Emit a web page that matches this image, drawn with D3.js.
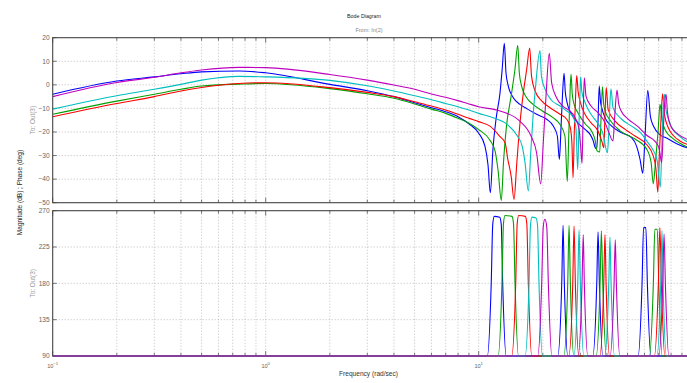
<!DOCTYPE html>
<html><head><meta charset="utf-8">
<script src="https://cdn.jsdelivr.net/npm/d3@7"></script>
<style>body{margin:0;background:#fff;}svg{display:block;font-family:"Liberation Sans",Arial,Helvetica,sans-serif;}</style>
</head><body><svg id="c" width="687" height="383"></svg>
<script>
// ---- data (frequency rad/s, value) ----
const seriesColors = ["#0000ff","#00a000","#ff0000","#00bfbf","#bf00bf"];
const magTicks = [20,10,0,-10,-20,-30,-40,-50];
const phaseTicks = [270,225,180,135,90];
const freqDecades = [0.1,1,10,100];
const decadeExp = ["\u22121","0","1","2"];

const blueMag = [[0.1,-4.0],[0.2,1.6],[0.3,3.4],[0.4,4.7],[0.5,5.5],[0.75,5.9],[1,5.1],[2,0.2],[3,-2.5],[4,-5.0],[5,-7.6],[6,-9.7],[7,-11.4],[8,-13.5],[9,-16.5],[10,-20.5],[10.7,-26],[11.06,-34],[11.34,-45.8],[11.67,-27],[12.06,-14.6],[12.59,-3.4],[12.89,6.6],[13.19,17.6],[13.43,5.1],[13.77,-0.5],[14.54,-5.5],[15.63,-8.3],[16.8,-10.1],[18.72,-12.5],[20.85,-14.6],[22.4,-17.5],[23.4,-21.7],[23.92,-31.6],[24.35,-18],[24.75,-4],[25.16,4.9],[25.5,-3],[25.9,-6.9],[27.3,-12.5],[29.4,-16.3],[31.57,-18.9],[33.33,-21.0],[34.5,-23.8],[35.18,-26.5],[35.83,-27.2],[36.34,-15],[36.8,-0.5],[37.3,-7],[37.8,-9.7],[39.2,-14],[42.1,-17.5],[46.9,-20.3],[52.2,-22.4],[55.1,-26],[57.22,-31.6],[58.9,-37.5],[60.4,-21.7],[62.2,-2.3],[64.0,-13.5],[66.4,-17.8],[71.3,-21.3],[76.6,-22.7],[85,-25],[95.1,-26.7],[100,-27.2]];
const greenMag = [[0.1,-12.5],[0.2,-6.9],[0.3,-4.0],[0.4,-1.9],[0.5,-0.5],[0.75,0.3],[1,0.6],[2,-1.6],[3,-3.8],[4,-5.7],[5,-8.1],[6,-10.3],[7,-12.1],[8,-14.2],[9,-16.3],[10,-19],[11.3,-23.5],[11.93,-28],[12.32,-36],[12.77,-49],[13.07,-33],[13.5,-17.5],[14.2,-4.8],[14.8,6.6],[15.25,16.8],[15.51,5.1],[15.9,-0.5],[16.8,-5.5],[18.0,-8.3],[19.9,-11.1],[22.4,-14],[24.1,-16.8],[25.4,-21.7],[26.06,-41],[26.5,-20],[26.85,-3],[27.13,4.6],[27.5,-4],[28.0,-8],[29.3,-12],[31.6,-16.5],[34.06,-20],[35.2,-23.5],[35.95,-28],[37.0,-28.5],[37.5,-15],[38.1,-0.8],[38.6,-8],[39.2,-11],[41.4,-15],[46.1,-19.5],[54.2,-23],[61.7,-27.5],[64.5,-33],[66.0,-42],[67.7,-32],[69.5,-20],[71.0,-8.3],[72.6,-15],[75.5,-19.5],[80.9,-22.5],[88,-24.8],[95.1,-26.3],[100,-26.8]];
const redMag = [[0.1,-13.5],[0.2,-7.9],[0.3,-5.0],[0.4,-2.6],[0.5,-1.1],[0.75,0.6],[1,0.9],[2,-1.2],[3,-3.2],[4,-5.0],[5,-7.2],[6,-9.0],[7,-10.7],[8,-12.5],[9,-14.2],[10,-15.6],[11.3,-17.5],[12.6,-22],[13.3,-24.6],[13.7,-31.6],[14.2,-38.7],[14.65,-48.6],[15.1,-33],[15.63,-16.1],[16.2,-3.4],[16.8,6.6],[17.36,15.6],[17.7,3.7],[18.4,-2.6],[19.8,-6.9],[21.6,-9.7],[24.1,-12.5],[25.9,-14.6],[26.9,-18],[27.4,-25],[27.73,-39.4],[28.1,-20],[28.5,-5],[28.85,3.9],[29.3,-3],[29.9,-6.9],[31.57,-12.5],[33.7,-16.1],[36.3,-19.6],[37.8,-23.8],[38.7,-26.7],[39.1,-15],[39.7,-1.2],[40.5,-10.4],[43.7,-15.4],[48.7,-18.9],[54.2,-21.7],[61.7,-25.5],[65.9,-30],[68.0,-36],[69.3,-45.5],[70.6,-28],[71.8,-14],[73.0,-3.8],[74.5,-12.5],[77.5,-18],[82,-21.5],[88,-23.8],[95.1,-25.2],[100,-25.7]];
const cyanMag = [[0.1,-10.3],[0.2,-4.6],[0.3,-1.9],[0.4,0.2],[0.5,2.0],[0.75,3.6],[1,3.4],[2,1.9],[3,-0.4],[4,-2.6],[5,-4.6],[6,-6.3],[7,-7.9],[8,-9.3],[9,-10.7],[10,-12.1],[11.7,-14],[13.6,-16.8],[15.2,-21.7],[16.0,-26],[16.5,-33],[17.1,-45],[17.55,-28.8],[18.0,-13.2],[18.5,-0.5],[19.4,14.5],[19.7,3.7],[20.5,-1.9],[21.8,-6.2],[24.1,-9.0],[25.9,-11.1],[27.7,-13.5],[28.6,-18],[29.16,-36],[29.6,-15],[29.9,-3],[30.12,3.4],[30.5,-3],[31.6,-7.6],[33.7,-12.5],[36.1,-16.1],[38.2,-20.3],[40.2,-28.8],[40.8,-20],[41.3,-8],[41.8,-1.7],[42.7,-9.7],[46.9,-14.6],[52.2,-17.5],[57.8,-20.5],[61.7,-24],[65.2,-27],[68.8,-32],[71.2,-43.4],[72.5,-25],[73.6,-8],[74.5,-4],[75.5,-10],[76.9,-13.2],[80.5,-18],[88,-22],[95.1,-24.1],[100,-24.6]];
const magentaMag = [[0.1,-5.0],[0.2,1.0],[0.3,3.2],[0.4,5.1],[0.5,6.3],[0.75,7.4],[1,7.3],[2,4.4],[3,2.0],[4,-0.1],[5,-1.9],[6,-3.9],[7,-5.3],[8,-6.7],[9,-8.1],[10,-9.3],[12.6,-11.1],[15.6,-15.4],[17.6,-21.7],[18.7,-28.8],[19.55,-42],[20.1,-24.6],[20.7,-4.8],[21.45,13.4],[22.0,0.9],[23.2,-5.5],[24.8,-9.0],[26.8,-11.1],[28.6,-14.6],[29.6,-18.9],[30.1,-26],[30.55,-33.3],[30.9,-15],[31.32,3.0],[31.9,-4.8],[33.7,-9],[36.3,-11.8],[39.2,-16.1],[40.6,-19.6],[42.7,-23.8],[43.6,-12],[44.6,-2.2],[45.4,-8],[46.6,-11],[50.3,-14.5],[55.6,-17.5],[61.7,-21.5],[67.3,-24],[70.3,-27],[72.3,-33],[73.5,-20],[74.6,-8],[75.8,-4],[77.0,-11.8],[80.0,-17.8],[85.4,-20.6],[95.1,-23.1],[100,-23.6]];

const bluePhase = [[0.1,90],[10.98,90],[11.45,180],[11.64,253],[11.83,263],[12.55,262],[12.76,253],[12.96,180],[13.46,90],[23.49,90],[24.54,180],[24.89,252],[25.24,180],[26.20,90],[34.33,90],[35.83,180],[36.34,244],[36.86,180],[38.26,90],[56.02,90],[58.47,180],[59.43,249],[60.93,249],[61.92,180],[64.28,90],[100,90]];
const greenPhase = [[0.1,90],[12.33,90],[12.86,180],[13.07,254],[13.29,264],[14.33,263],[14.57,254],[14.81,180],[15.37,90],[25.09,90],[26.18,180],[26.56,252],[26.94,180],[27.96,90],[35.58,90],[37.14,180],[37.66,245],[38.24,180],[39.70,90],[63.30,90],[66.07,180],[67.14,247],[68.92,247],[70.04,180],[72.72,90],[100,90]];
const redPhase = [[0.1,90],[14.29,90],[14.92,180],[15.16,254],[15.41,264],[16.55,263],[16.82,254],[17.10,180],[17.74,90],[26.48,90],[27.64,180],[28.03,251],[28.43,180],[29.51,90],[37.04,90],[38.65,180],[39.16,240],[39.63,180],[41.14,90],[66.82,90],[69.74,180],[70.88,249],[72.04,180],[74.80,90],[100,90]];
const cyanPhase = [[0.1,90],[16.51,90],[17.23,180],[17.50,252],[17.79,262],[18.58,261],[18.89,252],[19.19,180],[19.92,90],[27.96,90],[29.18,180],[29.59,246],[30.01,180],[31.15,90],[39.09,90],[40.80,180],[41.33,237],[41.83,180],[43.42,90],[68.57,90],[71.57,180],[72.51,245],[73.38,180],[76.18,90],[100,90]];
const magentaPhase = [[0.1,90],[18.93,90],[19.76,180],[20.08,249],[20.40,259],[20.51,259],[20.88,249],[21.23,180],[22.04,90],[29.28,90],[30.56,180],[30.96,240],[31.33,180],[32.53,90],[41.39,90],[43.21,180],[43.77,234],[44.29,180],[45.99,90],[70.07,90],[73.14,180],[74.17,241],[75.22,180],[78.10,90],[100,90]];

const magSeries = [blueMag, greenMag, redMag, cyanMag, magentaMag];
const phaseSeries = [bluePhase, greenPhase, redPhase, cyanPhase, magentaPhase];

// ---- layout ----
const svg = d3.select("#c");
const L = 52.7, R = 691.7;
const magTop = 37.7, magBot = 202.7, phTop = 210.7, phBot = 356;
const x = d3.scaleLog().domain([0.1, 100]).range([L, R]);
const yM = d3.scaleLinear().domain([-50, 20]).range([magBot, magTop]);
const yP = d3.scaleLinear().domain([90, 270]).range([phBot, phTop]);
const fmt = v => (v < 0 ? "\u2212" + Math.abs(v) : String(v));

svg.append("rect").attr("width", 687).attr("height", 383).attr("fill", "#fff");

const defs = svg.append("defs");
defs.append("clipPath").attr("id", "cm").append("rect")
  .attr("x", L).attr("y", magTop - 1).attr("width", R - L).attr("height", magBot - magTop + 2);
defs.append("clipPath").attr("id", "cp").append("rect")
  .attr("x", L).attr("y", phTop - 1).attr("width", R - L).attr("height", phBot - phTop + 2);

const xt = x.ticks();
const isMajor = t => freqDecades.some(d => Math.abs(d - t) < 1e-9);

function panel(y, ticks, top, bot) {
  const g = svg.append("g");
  xt.filter(t => t > 0.1 + 1e-9 && t < 100 - 1e-9).forEach(t => {
    g.append("line").attr("x1", x(t)).attr("x2", x(t)).attr("y1", top).attr("y2", bot)
      .attr("stroke", "#b0b0b0").attr("stroke-width", 0.8).attr("stroke-dasharray", "1,2");
  });
  ticks.filter(v => y(v) > top + 0.5 && y(v) < bot - 0.5).forEach(v => {
    g.append("line").attr("x1", L).attr("x2", R).attr("y1", y(v)).attr("y2", y(v))
      .attr("stroke", "#b0b0b0").attr("stroke-width", 0.8).attr("stroke-dasharray", "1,2");
  });
  xt.forEach(t => {
    const len = isMajor(t) ? 5 : 3;
    g.append("line").attr("x1", x(t)).attr("x2", x(t)).attr("y1", top).attr("y2", top + len)
      .attr("stroke", "#555").attr("stroke-width", 0.8);
    g.append("line").attr("x1", x(t)).attr("x2", x(t)).attr("y1", bot).attr("y2", bot - len)
      .attr("stroke", "#555").attr("stroke-width", 0.8);
  });
  ticks.forEach(v => {
    g.append("line").attr("x1", L).attr("x2", L + 4).attr("y1", y(v)).attr("y2", y(v))
      .attr("stroke", "#555").attr("stroke-width", 0.8);
    g.append("text").attr("x", L - 3).attr("y", y(v) + 2.3).attr("text-anchor", "end")
      .attr("font-size", 6.6).attr("fill", "#666").text(fmt(v));
  });
  g.append("rect").attr("x", L).attr("y", top).attr("width", R - L).attr("height", bot - top)
    .attr("fill", "none").attr("stroke", "#444").attr("stroke-width", 1.1);
}
panel(yM, magTicks, magTop, magBot);
panel(yP, phaseTicks, phTop, phBot);

const lineM = d3.line().x(d => x(d[0])).y(d => yM(d[1])).curve(d3.curveMonotoneX);
const lineP = d3.line().x(d => x(d[0])).y(d => yP(d[1])).curve(d3.curveMonotoneX);
const gm = svg.append("g").attr("clip-path", "url(#cm)");
const gp = svg.append("g").attr("clip-path", "url(#cp)");
magSeries.forEach((s, i) => {
  gm.append("path").attr("d", lineM(s)).attr("fill", "none")
    .attr("stroke", seriesColors[i]).attr("stroke-width", 1.1).attr("stroke-linejoin", "round");
});
phaseSeries.forEach((s, i) => {
  gp.append("path").attr("d", lineP(s)).attr("fill", "none")
    .attr("stroke", seriesColors[i]).attr("stroke-width", 1.1).attr("stroke-linejoin", "round");
});

freqDecades.forEach((d, i) => {
  const t = svg.append("text").attr("x", x(d)).attr("y", 367.5).attr("text-anchor", "middle")
    .attr("font-size", 5.6).attr("fill", "#666");
  t.append("tspan").text("10");
  t.append("tspan").attr("dy", -3).attr("font-size", 4.3).text(decadeExp[i]);
});

svg.append("text").attr("x", 364).attr("y", 17.5).attr("text-anchor", "middle")
  .attr("font-size", 5.3).attr("fill", "#222").text("Bode Diagram");
svg.append("text").attr("x", 369).attr("y", 32).attr("text-anchor", "middle")
  .attr("font-size", 5.5).attr("fill", "#888").text("From: In(2)");
svg.append("text").attr("x", 368.5).attr("y", 376).attr("text-anchor", "middle")
  .attr("font-size", 6.6).attr("fill", "#333").text("Frequency  (rad/sec)");
svg.append("text").attr("transform", "translate(21.5,192.5) rotate(-90)").attr("text-anchor", "middle")
  .attr("font-size", 6.5).attr("fill", "#222").text("Magnitude (dB) ; Phase (deg)");
[[magTop, magBot], [phTop, phBot]].forEach(p => {
  svg.append("text").attr("transform", `translate(34.5,${(p[0] + p[1]) / 2}) rotate(-90)`)
    .attr("text-anchor", "middle").attr("font-size", 6.4).attr("fill", "#999").text("To: Out(3)");
});
</script></body></html>
